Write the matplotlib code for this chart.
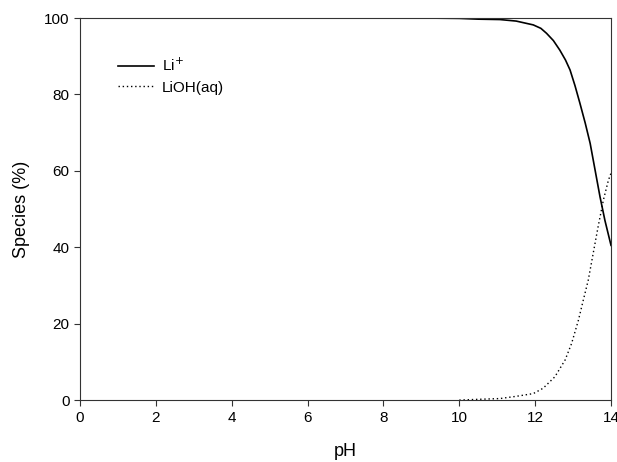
import matplotlib
matplotlib.use("Agg")
import matplotlib.pyplot as plt

plt.rcParams['font.family'] = ['Liberation Sans', 'DejaVu Sans']

ph_li = [0, 2, 4, 6, 8, 9, 10, 10.5, 11.07, 11.5, 11.95, 12.15, 12.30, 12.48, 12.65, 12.80, 12.92, 13.05, 13.18, 13.32, 13.45, 13.58, 13.71, 13.84, 14.0]
li = [100, 100, 100, 100, 100, 100, 99.9, 99.7, 99.6, 99.2, 98.2, 97.3, 96.0, 94.1, 91.6, 89.0, 86.4, 82.3, 77.7, 72.5, 67.2, 60.2, 53.2, 47.0, 40.5]

ph_lioh = [10.0, 10.5, 11.07, 11.51, 11.95, 12.21, 12.52, 12.79, 12.96, 13.14, 13.27, 13.40, 13.53, 13.66, 13.80, 13.93, 14.0]
lioh = [0.0, 0.2, 0.4, 1.0, 1.7, 3.1, 6.1, 10.5, 14.8, 20.9, 26.2, 31.4, 38.4, 45.4, 52.4, 57.5, 59.4]

fig = plt.figure(figsize=(6.17, 4.62), dpi=100)
ax = fig.add_axes([0.1297, 0.134, 0.8606, 0.827])
ax.plot(ph_li, li, color='black', lw=1.2, label='Li$^{+}$')
ax.plot(ph_lioh, lioh, color='black', lw=1.0, ls=(0, (1, 2)), label='LiOH(aq)')
ax.set_xlim(0, 14)
ax.set_ylim(0, 100)
ax.set_xticks(range(0, 15, 2))
ax.set_yticks(range(0, 101, 20))
ax.tick_params(direction='out', labelsize=11, length=4, color='#333333')
for s in ax.spines.values():
    s.set_color('#333333')
ax.set_xlabel('pH', fontsize=13, labelpad=13)
ax.set_ylabel('Species (%)', fontsize=13, labelpad=10)
ax.legend(loc='upper left', bbox_to_anchor=(0.045, 0.935), frameon=False, fontsize=11,
          handlelength=2.4, handletextpad=0.5, labelspacing=0.45)
fig.savefig('out.png', dpi=100)
